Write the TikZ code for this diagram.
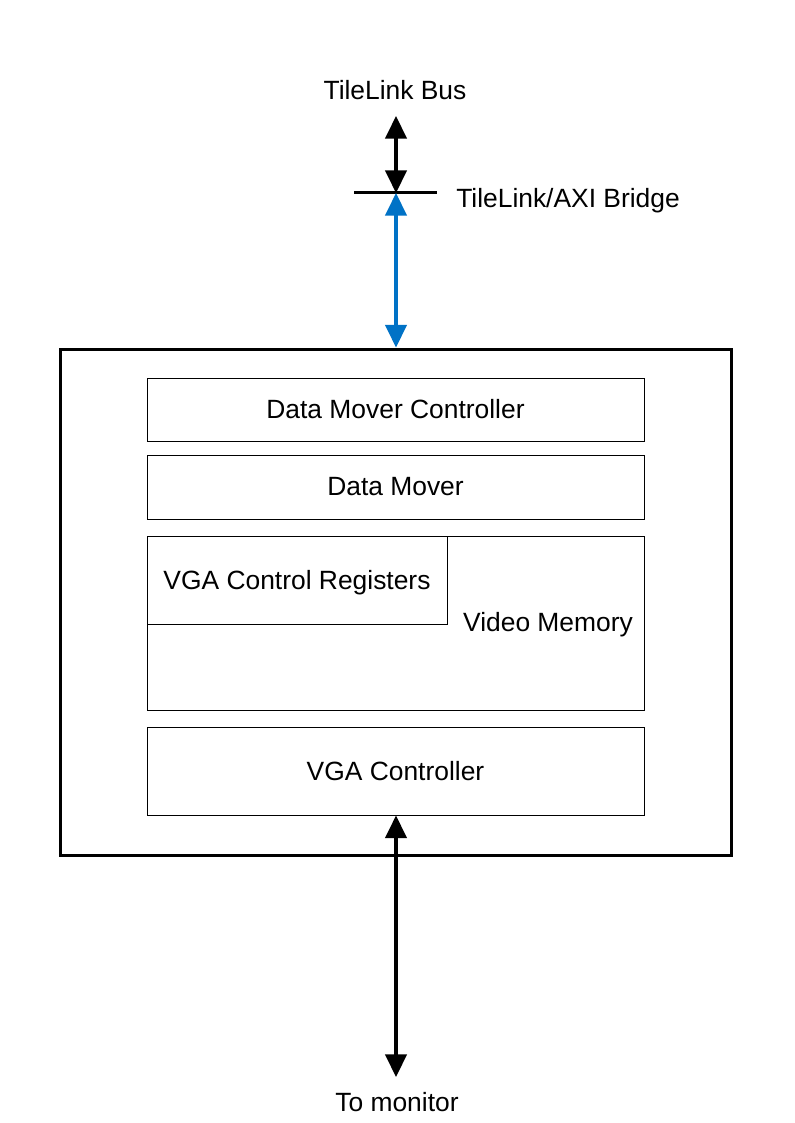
\documentclass[tikz,border=0pt]{standalone}
\usepackage{fontspec}
\setmainfont{Liberation Sans}
\usepackage{xcolor}
\usepackage{tikz}
\usetikzlibrary{arrows.meta,positioning,calc}
\definecolor{axiblue}{RGB}{0,114,198}
\newcommand{\lblfont}{\fontsize{19.8}{23.8}\selectfont}
\tikzset{
	blk/.style={draw, line width=0.75pt, inner sep=0pt, font=\lblfont},
	txt/.style={inner sep=0pt, font=\lblfont},
	bus/.style={line width=2.6pt, {Triangle[width=16pt,length=17pt]}-{Triangle[width=16pt,length=17pt]}}
}
\begin{document}
\begin{tikzpicture}[x=0.75pt,y=-0.75pt]
	\useasboundingbox (0,0) rectangle (794,1123);
	% outer block
	\node[draw, line width=2.25pt, minimum width=503.25pt, minimum height=379.5pt] (top) at (395.5,602) {};
	\node[blk, minimum width=372.75pt, minimum height=47.25pt] (dmc) at (395.5,409.5) {Data Mover Controller};
	\node[blk, minimum width=372.75pt, minimum height=48pt] (dm) at (395.5,487) {Data Mover};
	\node[blk, minimum width=372.75pt, minimum height=130.5pt] (vmem) at (395.5,623) {};
	\node[txt, text depth=0pt] (vmemlbl) at (548,622) {Video Memory};
	\node[blk, text depth=0pt, minimum width=225pt, minimum height=66pt] (vgareg) at (297,580) {VGA Control Registers};
	\node[blk, minimum width=372.75pt, minimum height=66pt] (vgactl) at (395.5,771) {VGA Controller};
	% bridge
	\coordinate (brg) at (396,193);
	\draw[line width=2.25pt] (354,193) -- (437,193);
	\node[txt, text depth=0pt, anchor=west] (brglbl) at (456,198) {TileLink/AXI Bridge};
	\node[txt] (tlbus) at (395,90) {TileLink Bus};
	\coordinate (busend) at (396,116);
	\draw[bus] (busend) -- (brg);
	\draw[bus, axiblue] (brg) -- (top.north -| brg);
	% monitor
	\coordinate (monend) at (396,1077);
	\node[txt] (mon) at (397,1102) {To monitor};
	\draw[bus] (vgactl.south -| monend) -- (monend);
\end{tikzpicture}
\end{document}
